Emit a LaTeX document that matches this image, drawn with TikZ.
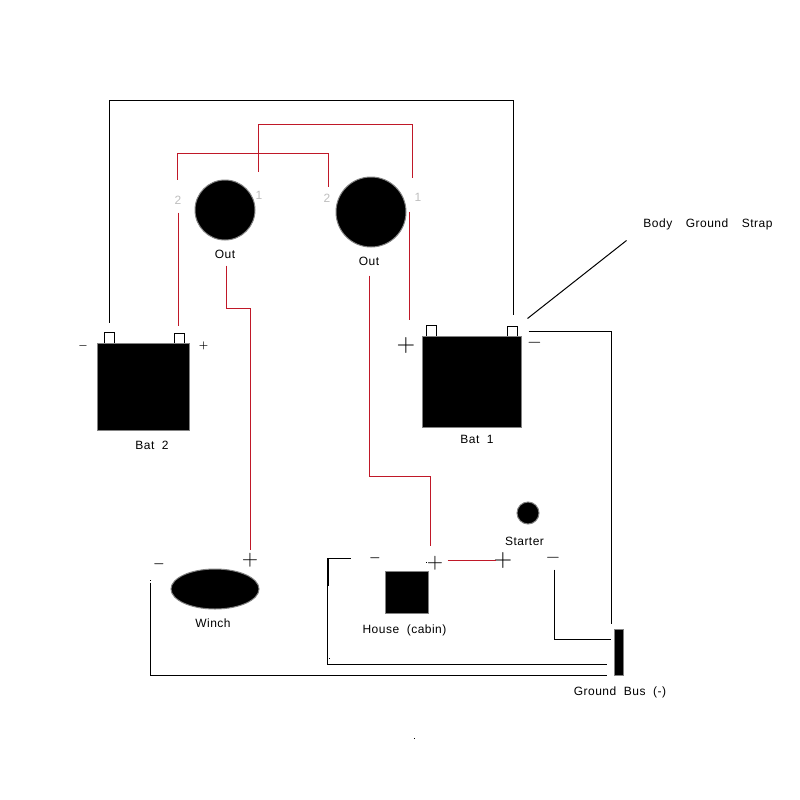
\documentclass[tikz,border=0pt]{standalone}
\usepackage{fontspec}
\usetikzlibrary{shapes.geometric}
\setmainfont[LetterSpace=4,WordSpace=2]{Liberation Sans}
\definecolor{wirered}{RGB}{192,24,40}
\definecolor{edgegrey}{RGB}{130,130,130}
\definecolor{portgrey}{RGB}{190,190,190}
\tikzstyle{wire}=[draw=black,line width=1pt]
\tikzstyle{feed}=[draw=wirered,line width=1pt]
\tikzstyle{part}=[draw=edgegrey,fill=black,line width=1pt,inner sep=0pt,outer sep=0pt]
\tikzstyle{terminal}=[draw=black,fill=white,line width=1pt,inner sep=0pt,outer sep=0pt]
\tikzstyle{caption}=[inner sep=0pt,font=\fontsize{12}{14}\selectfont]
\tikzstyle{port}=[caption,text=portgrey]
\tikzstyle{sign}=[inner sep=0pt]
\begin{document}
\begin{tikzpicture}[x=1pt,y=-1pt]
			\useasboundingbox (0,0) rectangle (800,800);
			% terminals go first, the batteries sit on top of them
			\foreach \nm/\x/\y in {TA/109/338, TB/179/338.5, TC/431.5/331, TD/512/331.5}{
				\node (\nm)[terminal,minimum width=10pt,minimum height=11pt] at (\x,\y) {};
			}
			\node (BatB)[part,minimum width=92pt,minimum height=87pt] at (143,386.5) {};
			\node (BatA)[part,minimum width=99pt,minimum height=91pt] at (471.5,381.5) {};
			\node (OutA)[part,circle,minimum size=60pt] at (225,210) {};
			\node (OutB)[part,circle,minimum size=70pt] at (371,212) {};
			\node (Winch)[part,ellipse,minimum width=88pt,minimum height=40pt] at (215,589) {};
			\node (House)[part,minimum width=43pt,minimum height=42pt] at (406.5,592) {};
			\node (Starter)[part,circle,minimum size=22pt] at (528,513) {};
			\node (Bus)[part,minimum width=9pt,minimum height=46pt] at (618.5,652) {};

			\node (LBatB)[caption] at (152,445) {Bat 2};
			\node (LBatA)[caption] at (477,439) {Bat 1};
			\node (LOutA)[caption] at (225,254) {Out};
			\node (LOutB)[caption] at (369,261) {Out};
			\node (LWinch)[caption] at (213,623) {Winch};
			\node (LHouse)[caption] at (404.5,630) {House (cabin)};
			\node (LStarter)[caption] at (524.5,541.5) {Starter};
			\node (LBus)[caption] at (620,692) {Ground Bus (-)};
			\node (LStrap)[caption] at (708,224) {Body\hspace{6pt} Ground\hspace{6pt} Strap};

			\node (PA)[port] at (178,200) {2};
			\node (PB)[port] at (259,195) {1};
			\node (PC)[port] at (327,198) {2};
			\node (PD)[port] at (418,197) {1};

			\foreach \nm/\sym/\x/\y/\s in {PlB/+/406/345/2.4, MB/-/534.5/342.5/1.9, PlC/+/250/560/2.1,
					PlD/+/435/563/2.1, PlE/+/503/560/2.4, ME/-/553/558/1.9}{
				\node (\nm)[sign,scale=\s] at (\x,\y) {$\sym$};
			}
			% the small ones need the heavier face
			\foreach \nm/\sym/\x/\y/\s in {MA/-/83/346/1.05, PlA/+/203.5/346/1.05, MC/-/159/564/1.3, MD/-/375/558/1.3}{
				\node (\nm)[sign,scale=\s] at (\x,\y) {{\boldmath$\sym$}};
			}

			% free wire ends
			\foreach \nm/\x/\y in {a/109/322, b/513/314, c/258/171, d/412/177, e/177/179, f/328/186, g/178/212, h/178/325,
					i/226/265, j/250/549, k/369/275, l/430/545, m/409/211, n/409/319, o/447/560, p/495/560,
					q/527/318, r/626/240, s/528/331, t/611/623, u/554/569, v/610/639, w/150/582, x/606/675,
					y/350/558, z/606/664, aa/327/558, ab/327/585}{
				\coordinate (\nm) at (\x+.5,\y+.5);
			}

			\draw[wire] (a) |- ++(0,-222) -| (b);
			\draw[feed] (c) |- ++(0,-47) -| (d);
			\draw[feed] (e) |- ++(0,-26) -| (f);
			\draw[feed] (g) -- (h);
			\draw[feed] (i) |- ++(24,43) -- (j);
			\draw[feed] (k) |- ++(61,201) -- (l);
			\draw[feed] (m) -- (n);
			\draw[feed] (o) -- (p);
			\draw[wire] (q) -- (r);
			\draw[wire] (s) -| (t);
			\draw[wire] (u) |- (v);
			\draw[wire] (w) |- (x);
			\draw[wire] (y) -- (aa) |- (z);
			\draw[line width=2pt] (aa) -- (ab);

			\foreach \nm/\x/\y in {DA/414/738, DB/150.5/580, DC/426/562, DD/329.5/658}{
				\fill (\x-.5,\y-.5) rectangle (\x+.5,\y+.5);
			}
		\end{tikzpicture}
\end{document}
